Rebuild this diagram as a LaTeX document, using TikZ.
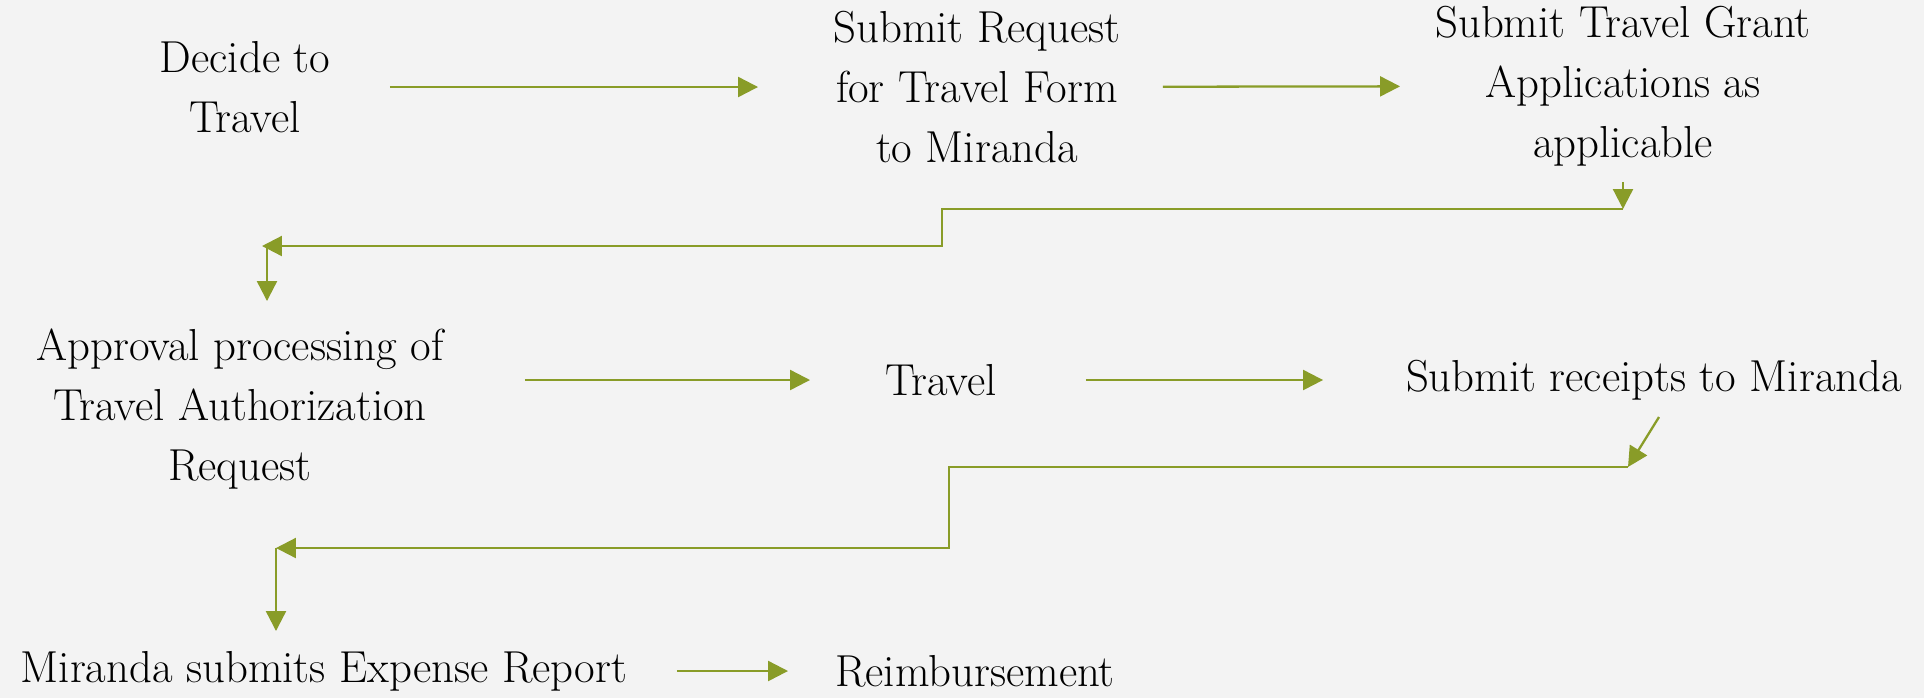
\documentclass[tikz,border=0pt]{standalone}
\usepackage{fontspec}
\usetikzlibrary{arrows.meta}
\definecolor{leaf}{RGB}{137,156,40}
\definecolor{paper}{RGB}{243,243,243}
\tikzset{
	stage/.style={align=center, inner sep=0pt, font=\fontsize{25.5}{34}\selectfont},
	flow/.style={draw=leaf, line width=1.3pt, -{Triangle[length=4mm,width=4mm]}}
}

\begin{document}
\begin{tikzpicture}[x=0.02cm, y=-0.02cm]
		%%%%% START %%%%%
		
		\fill[paper] (0, 0) rectangle (1924, 698);
		\useasboundingbox (0, 0) rectangle (1924, 698);
		
		\node[stage] (decide) at (245, 87) {Decide to\\Travel};
		\node[stage] (request) at (977, 87) {Submit Request\\for Travel Form\\to Miranda};
		\node[stage] (grant) at (1623, 86) {Submit Travel Grant\\Applications as\\applicable};
		
		\node[stage] (approval) at (240, 409) {Approval processing of\\Travel Authorization\\Request};
		\node[stage] (travel) at (941, 380) {Travel};
		\node[stage] (receipts) at (1654, 380) {Submit receipts to Miranda};
		
		\node[stage] (expense) at (324, 671) {Miranda submits Expense Report};
		\node[stage] (reimburse) at (975, 671) {Reimbursement};
		
		\coordinate (g1) at (1623, 209);
		\coordinate (jog1) at (942, 228);
		\coordinate (g2) at (262, 246);
		\coordinate (a1) at (267, 246);
		
		\coordinate (r0) at (1659, 417);
		\coordinate (r1) at (1628, 467);
		\coordinate (jog2) at (949, 507);
		\coordinate (e1) at (276, 548);
		
		% first row
		\draw[flow, shorten <=2.9cm, shorten >=4.38cm] (decide.center) -- (request.center);
		\draw[flow, shorten <=3.72cm, shorten >=4.46cm] (request.center) -- (grant.center);
		\draw[flow, shorten <=1.92cm] (grant.center) -- (g1);
		\draw[flow] (g1) -| (jog1) |- (g2);
		\draw[flow, shorten >=2.16cm] (a1) -- (a1 |- approval.center);
		
		% second row
		\draw[flow, shorten <=5.7cm, shorten >=2.62cm] (approval.center |- travel.center) -- (travel.center);
		\draw[flow, shorten <=2.9cm, shorten >=6.62cm] (travel.center) -- (receipts.center);
		\draw[flow] (r0) -- (r1);
		\draw[flow] (r1) -| (jog2) |- (e1);
		\draw[flow, shorten >=0.8cm] (e1) -- (e1 |- expense.center);
		
		% last row
		\draw[flow, shorten <=7.06cm, shorten >=3.74cm] (expense.center) -- (reimburse.center);
		
		%%%%% END %%%%%
\end{tikzpicture}
\end{document}
